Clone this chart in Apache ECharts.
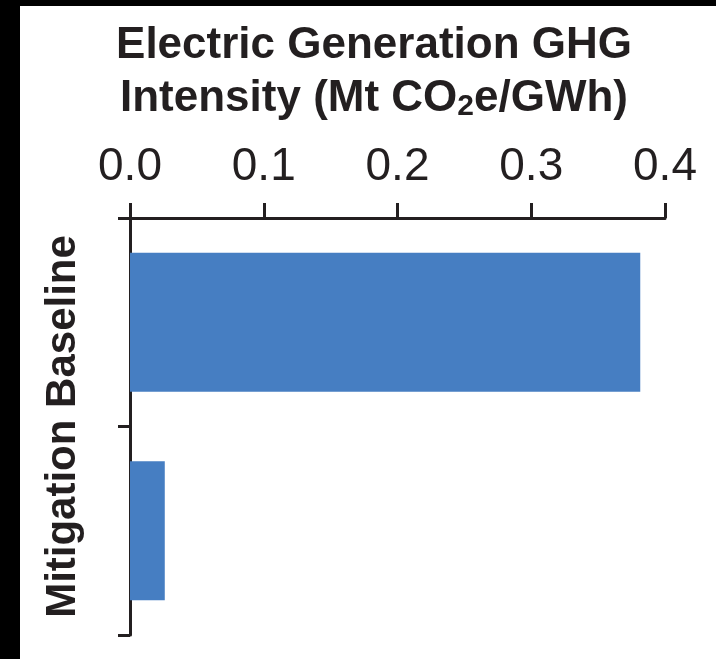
<!DOCTYPE html>
<html>
<head>
<meta charset="utf-8">
<script src="https://cdn.jsdelivr.net/npm/echarts@6/dist/echarts.min.js"></script>
<style>
  html, body { margin: 0; padding: 0; background: #ffffff; }
  #chart { width: 716px; height: 659px; }
</style>
</head>
<body>
<div id="chart"></div>
<script>
// Scenarios, listed from the bottom of the axis upward
const categories = ['Mitigation', 'Baseline'];
// GHG intensity of electric generation, Mt CO2e/GWh
const intensity = [0.026, 0.3815];
// Value axis ticks
const tickValues = [0.0, 0.1, 0.2, 0.3, 0.4];

const ink = '#231f20';
const barBlue = '#467ec2';

const chart = echarts.init(document.getElementById('chart'), null, { renderer: 'canvas' });

chart.setOption({
  backgroundColor: '#ffffff',
  animation: false,
  title: {
    text: '{t|Electric Generation GHG}\n{t|Intensity (Mt CO}{sub|2}{t|e/GWh)}',
    left: 369,
    top: 14,
    textAlign: 'center',
    textStyle: {
      rich: {
        t: { fontFamily: 'Liberation Sans', fontWeight: 'bold', fontSize: 44, color: ink, lineHeight: 53 },
        sub: { fontFamily: 'Liberation Sans', fontWeight: 'bold', fontSize: 30, color: ink, lineHeight: 53, padding: [16, 0, 0, 0] }
      }
    }
  },
  graphic: [
    { type: 'rect', shape: { x: 0, y: 0, width: 20, height: 659 }, style: { fill: '#000000' }, z: 100 },
    { type: 'rect', shape: { x: 0, y: 0, width: 716, height: 6 }, style: { fill: '#000000' }, z: 100 }
  ],
  grid: { left: 130, right: 51, top: 218, bottom: 24, containLabel: false },
  xAxis: {
    type: 'value',
    position: 'top',
    min: tickValues[0],
    max: tickValues[tickValues.length - 1],
    interval: 0.1,
    axisLine: { show: true, lineStyle: { color: ink, width: 3 } },
    axisTick: { show: true, inside: false, length: 15, lineStyle: { color: ink, width: 3 } },
    splitLine: { show: false },
    axisLabel: {
      margin: 28,
      fontFamily: 'Liberation Sans',
      fontSize: 46,
      color: ink,
      formatter: v => v.toFixed(1)
    }
  },
  yAxis: {
    type: 'category',
    data: categories,
    name: categories.join(' '),
    nameLocation: 'middle',
    nameRotate: 90,
    nameGap: 46,
    nameTextStyle: { fontFamily: 'Liberation Sans', fontWeight: 'bold', fontSize: 42, color: ink },
    axisLine: { show: true, lineStyle: { color: ink, width: 3 } },
    axisTick: { show: true, inside: false, length: 12, alignWithLabel: false, lineStyle: { color: ink, width: 3 } },
    axisLabel: { show: false },
    splitLine: { show: false }
  },
  series: [{
    type: 'bar',
    data: intensity,
    barCategoryGap: '33.3%',
    itemStyle: { color: barBlue },
    z: 1
  }]
});
</script>
</body>
</html>
